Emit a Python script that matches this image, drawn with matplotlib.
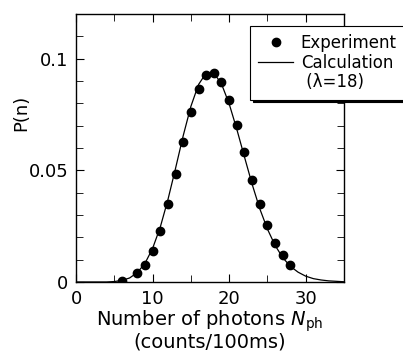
import matplotlib
matplotlib.use('Agg')
import matplotlib.pyplot as plt
from matplotlib.ticker import MultipleLocator

# measured points (n = 7 missing in the original)
n_exp = [6, 8, 9, 10, 11, 12, 13, 14, 15, 16, 17, 18, 19, 20, 21, 22, 23, 24, 25, 26, 27, 28]
p_exp = [0.0006, 0.0039, 0.0074, 0.0140, 0.0229, 0.0348, 0.0485, 0.0628, 0.0762, 0.0866,
         0.0926, 0.0936, 0.0896, 0.0813, 0.0702, 0.0580, 0.0458, 0.0348, 0.0253, 0.0176,
         0.0119, 0.0077]

n_calc = list(range(0, 36))
p_calc = [0.0, 0.0, 0.0, 0.0, 0.0, 0.0002, 0.0007, 0.0018, 0.0042, 0.0083,
          0.0150, 0.0245, 0.0368, 0.0509, 0.0655, 0.0786, 0.0884, 0.0936, 0.0936, 0.0887,
          0.0798, 0.0684, 0.0560, 0.0438, 0.0328, 0.0237, 0.0164, 0.0109, 0.0070, 0.0044,
          0.0026, 0.0015, 0.0009, 0.0005, 0.0003, 0.0001]

plt.rcParams['font.family'] = 'DejaVu Sans'

fig = plt.figure(figsize=(4.03, 3.56), dpi=100)
ax = fig.add_axes([0.1886, 0.2079, 0.665, 0.7528])

ax.plot(n_exp, p_exp, 'o', color='black', ms=6, label='Experiment')
ax.plot(n_calc, p_calc, '-', color='black', lw=0.9, label='Calculation')
ax.plot([], [], ' ', label=' (\u03bb=18)')

ax.set_xlim(0, 35)
ax.set_ylim(0, 0.12)
ax.xaxis.set_major_locator(MultipleLocator(10))
ax.xaxis.set_minor_locator(MultipleLocator(5))
ax.yaxis.set_minor_locator(MultipleLocator(0.01))
ax.set_yticks([0, 0.05, 0.1])
ax.set_yticklabels(['0', '0.05', '0.1'])
ax.tick_params(which='both', direction='in', top=True, right=True, labelsize=13)
ax.tick_params(axis='x', pad=6)
ax.tick_params(axis='y', pad=5.5)
ax.tick_params(which='major', length=6)
ax.tick_params(which='minor', length=5)
for s in ax.spines.values():
    s.set_linewidth(1.0)

ax.set_ylabel('P(n)', fontsize=13)
ax.yaxis.set_label_coords(-0.17, 0.63)
ax.set_xlabel('Number of photons $\\mathit{N}_\\mathrm{ph}$\n(counts/100ms)',
              fontsize=14, labelpad=0, linespacing=0.9)

leg = fig.legend(loc='upper left', bbox_to_anchor=(0.62, 0.928),
                 bbox_transform=fig.transFigure, borderaxespad=0,
                 frameon=True, fancybox=False, framealpha=1, edgecolor='black',
                 shadow={'color': 'black', 'alpha': 1},
                 handlelength=2.1, handletextpad=0.45, labelspacing=0.1,
                 borderpad=0.5, fontsize=12)
leg.get_frame().set_linewidth(0.8)

fig.savefig('out.png', dpi=100)
